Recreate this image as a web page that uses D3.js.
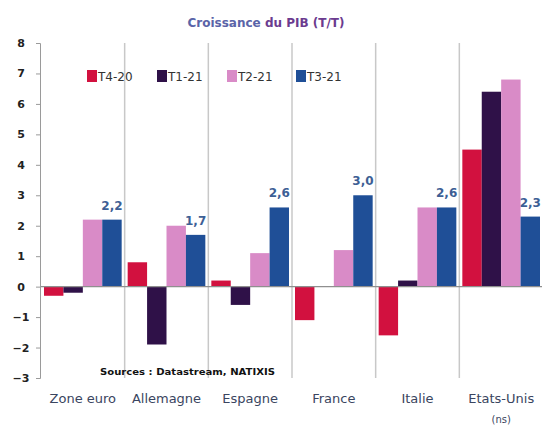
<!DOCTYPE html>
<html><head><meta charset="utf-8">
<script src="https://cdn.jsdelivr.net/npm/d3@7"></script>
<style>body{margin:0;background:#fff}svg{display:block}</style>
</head><body>
<svg id="c" width="542" height="425"></svg>
<script>
const categories = ["Zone euro","Allemagne","Espagne","France","Italie","Etats-Unis"];
const series = ["T4-20","T1-21","T2-21","T3-21"];
const t4_20 = [-0.3, 0.8, 0.2, -1.1, -1.6, 4.5];
const t1_21 = [-0.2, -1.9, -0.6, 0.0, 0.2, 6.4];
const t2_21 = [2.2, 2.0, 1.1, 1.2, 2.6, 6.8];
const t3_21 = [2.2, 1.7, 2.6, 3.0, 2.6, 2.3];
const t3Labels = ["2,2","1,7","2,6","3,0","2,6","2,3"];
const yTicks = [-3,-2,-1,0,1,2,3,4,5,6,7,8];
const colors = ["#d2113f","#2f1148","#d98bc7","#1f4f97"];
const values = [t4_20, t1_21, t2_21, t3_21];

const FONT = "DejaVu Sans, Verdana, sans-serif";
const svg = d3.select("#c");
const x0 = d3.scaleBand().domain(categories).range([41, 543]).paddingInner(0).paddingOuter(0);
const x1 = d3.scaleBand().domain(series).range([3, x0.bandwidth() - 3]).paddingOuter(0).paddingInner(0);
const y = d3.scaleLinear().domain([-3, 8]).range([378, 43]);

// vertical separators
svg.append("g").selectAll("line").data(categories.slice(1)).join("line")
  .attr("x1", d => x0(d)).attr("x2", d => x0(d))
  .attr("y1", y(8)).attr("y2", y(-3))
  .attr("stroke", "#c8c8c8").attr("stroke-width", 1.5);

// title
const title = svg.append("text").attr("x", 266).attr("y", 27).attr("text-anchor", "middle")
  .attr("font-family", FONT).attr("font-size", 12).attr("font-weight", "bold");
title.append("tspan").attr("fill", "#5a64a8").text("Croissance ");
title.append("tspan").attr("fill", "#6b3b8f").text("du PIB (T/T)");

// bars
series.forEach((s, si) => {
  svg.append("g").selectAll("rect").data(categories).join("rect")
    .attr("x", c => x0(c) + x1(s))
    .attr("width", x1.bandwidth())
    .attr("y", (c, i) => y(Math.max(0, values[si][i])))
    .attr("height", (c, i) => Math.abs(y(values[si][i]) - y(0)))
    .attr("fill", colors[si]);
});

// zero line
svg.append("line").attr("x1", 41).attr("x2", 542).attr("y1", y(0)).attr("y2", y(0))
  .attr("stroke", "#8f8f8f").attr("stroke-width", 1.2);

// y axis
const yAxis = svg.append("g").attr("transform", "translate(40,0)")
  .call(d3.axisLeft(y).tickValues(yTicks).tickSize(4).tickPadding(15).tickFormat(d3.format("d")));
yAxis.select(".domain").attr("stroke", "#9a9a9a");
yAxis.selectAll(".tick line").attr("stroke", "#9a9a9a");
yAxis.selectAll("text").attr("font-family", FONT)
  .attr("font-size", 11).attr("font-weight", "bold").attr("fill", "#222")
  .attr("text-anchor", "middle");

// data labels for T3-21
svg.append("g").selectAll("text").data(categories).join("text")
  .attr("x", c => x0(c) + x1("T3-21") + x1.bandwidth() / 2)
  .attr("y", (c, i) => y(t3_21[i]) - 10)
  .attr("text-anchor", "middle")
  .attr("font-family", FONT).attr("font-size", 12).attr("font-weight", "bold")
  .attr("fill", "#3d5f95")
  .text((c, i) => t3Labels[i]);

// legend
const legX = [87, 157, 227, 296];
const leg = svg.append("g").selectAll("g").data(series).join("g")
  .attr("transform", (d, i) => `translate(${legX[i]},70)`);
leg.append("rect").attr("width", 10).attr("height", 12).attr("fill", (d, i) => colors[i]);
leg.append("text").attr("x", 11).attr("y", 11)
  .attr("font-family", FONT).attr("font-size", 12)
  .attr("fill", "#333").text(d => d);

// source
svg.append("text").attr("x", 100).attr("y", 375)
  .attr("font-family", FONT).attr("font-size", 9).attr("font-weight", "bold")
  .attr("textLength", 175).attr("lengthAdjust", "spacingAndGlyphs")
  .attr("fill", "#111").text("Sources : Datastream, NATIXIS");

// x labels
const xl = svg.append("g").selectAll("text").data(categories).join("text")
  .attr("x", c => x0(c) + x0.bandwidth() / 2)
  .attr("y", 403)
  .attr("text-anchor", "middle")
  .attr("font-family", FONT).attr("font-size", 13)
  .attr("fill", "#3a4560");
xl.append("tspan").text(c => c);
xl.filter(c => c === "Etats-Unis").append("tspan")
  .attr("x", c => x0(c) + x0.bandwidth() / 2).attr("dy", 20).attr("font-size", 10).text("(ns)");
</script>
</body></html>
